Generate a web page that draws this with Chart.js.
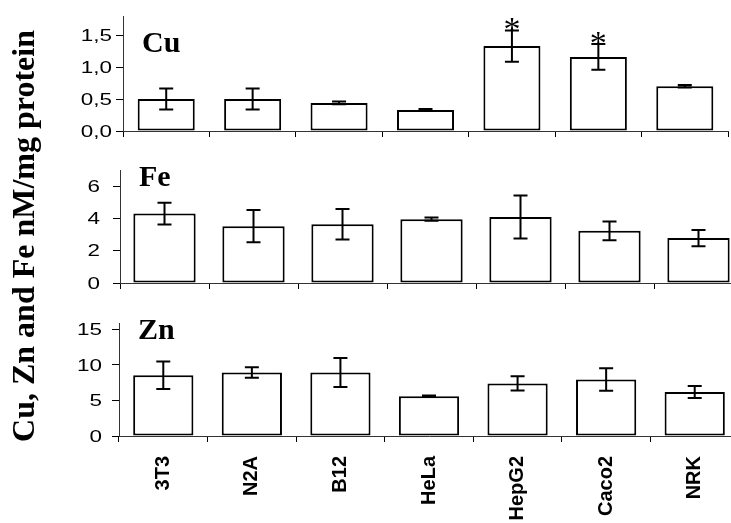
<!DOCTYPE html>
<html>
<head>
<meta charset="utf-8">
<script src="https://cdn.jsdelivr.net/npm/chart.js@4.4.0/dist/chart.umd.min.js"></script>
<style>
  html, body { margin: 0; padding: 0; background: #fff; overflow: hidden; }
  .panel { position: absolute; left: 0; top: 0; width: 750px; height: 523px; }
</style>
</head>
<body>
<div class="panel"><canvas id="cu-chart" width="750" height="523"></canvas></div>
<div class="panel"><canvas id="fe-chart" width="750" height="523"></canvas></div>
<div class="panel"><canvas id="zn-chart" width="750" height="523"></canvas></div>
<script>
const cellLines = ['3T3', 'N2A', 'B12', 'HeLa', 'HepG2', 'Caco2', 'NRK'];

// metal content, nM/mg protein (mean and error)
const cuMeans = [0.50, 0.50, 0.44, 0.33, 1.33, 1.16, 0.70];
const cuErrors = [0.165, 0.165, 0.02, 0.015, 0.245, 0.20, 0.02];
const cuSignificant = [false, false, false, false, true, true, false];

const feMeans = [4.30, 3.52, 3.64, 3.95, 4.09, 3.23, 2.78];
const feErrors = [0.67, 1.00, 0.95, 0.10, 1.33, 0.58, 0.50];

const znMeans = [8.56, 8.94, 8.94, 5.60, 7.39, 7.95, 6.20];
const znErrors = [1.93, 0.73, 2.05, 0.10, 1.00, 1.60, 0.85];

const cuTicks = [0, 0.5, 1.0, 1.5];
const feTicks = [0, 2, 4, 6];
const znTicks = [0, 5, 10, 15];

const CANVAS_W = 750;
const CANVAS_H = 523;
const sansFamily = '"Liberation Sans", Arial, sans-serif';
const serifFamily = '"Liberation Serif", "Times New Roman", serif';

// whiskers + significance stars, drawn on top of the bars
const errorBarPlugin = {
    id: 'errorBars',
    afterDatasetsDraw(chart, args, opts) {
        if (!opts.errors) return;
        const ctx = chart.ctx;
        const yScale = chart.scales.y;
        const values = chart.data.datasets[0].data;
        const bars = chart.getDatasetMeta(0).data;
        ctx.save();
        ctx.strokeStyle = '#000';
        ctx.lineWidth = 2;
        bars.forEach((bar, i) => {
            const hi = yScale.getPixelForValue(values[i] + opts.errors[i]);
            const lo = yScale.getPixelForValue(values[i] - opts.errors[i]);
            ctx.beginPath();
            ctx.moveTo(bar.x, hi); ctx.lineTo(bar.x, lo);
            ctx.moveTo(bar.x - opts.cap, hi); ctx.lineTo(bar.x + opts.cap, hi);
            ctx.moveTo(bar.x - opts.cap, lo); ctx.lineTo(bar.x + opts.cap, lo);
            ctx.stroke();

            if (opts.stars && opts.stars[i]) {
                ctx.font = '34px ' + serifFamily;
                ctx.fillStyle = '#000';
                ctx.textAlign = 'center';
                ctx.textBaseline = 'alphabetic';
                const m = ctx.measureText('*');
                const target = hi - 6;
                const base = target - (m.actualBoundingBoxDescent - m.actualBoundingBoxAscent) / 2;
                ctx.fillText('*', bar.x, base);
            }
        });
        ctx.restore();
    }
};

// y tick labels, drawn a bit wider than the plain font
const wideTicksPlugin = {
    id: 'wideTicks',
    afterDraw(chart, args, opts) {
        const ctx = chart.ctx;
        const yScale = chart.scales.y;
        const right = chart.chartArea.left - opts.gap;
        ctx.save();
        ctx.font = opts.size + 'px ' + sansFamily;
        ctx.fillStyle = '#000';
        ctx.textAlign = 'right';
        ctx.textBaseline = 'middle';
        yScale.ticks.forEach(t => {
            const y = yScale.getPixelForValue(t.value);
            ctx.save();
            ctx.translate(right, y);
            ctx.scale(opts.stretch, 1);
            ctx.fillText(t.value.toFixed(opts.digits).replace('.', ','), 0, 1);
            ctx.restore();
        });
        ctx.restore();
    }
};

// element name in the upper left of each panel
const panelLabelPlugin = {
    id: 'panelLabel',
    afterDraw(chart, args, opts) {
        if (!opts.text) return;
        const ctx = chart.ctx;
        ctx.save();
        ctx.font = 'bold 30px ' + serifFamily;
        ctx.fillStyle = '#000';
        ctx.textAlign = 'left';
        ctx.textBaseline = 'alphabetic';
        ctx.fillText(opts.text, chart.chartArea.left + opts.dx, opts.y);
        ctx.restore();
    }
};

// shared vertical title at the far left
const sideTitlePlugin = {
    id: 'sideTitle',
    afterDraw(chart, args, opts) {
        if (!opts.text) return;
        const ctx = chart.ctx;
        ctx.save();
        ctx.translate(opts.x, opts.y);
        ctx.rotate(-Math.PI / 2);
        ctx.font = 'bold 32px ' + serifFamily;
        ctx.fillStyle = '#000';
        ctx.textAlign = 'center';
        ctx.textBaseline = 'alphabetic';
        ctx.fillText(opts.text, 0, 0);
        ctx.restore();
    }
};

function makePanel(canvasId, means, errors, ticks, max, area, extra) {
    const ctx = document.getElementById(canvasId).getContext('2d');
    return new Chart(ctx, {
        type: 'bar',
        data: {
            labels: cellLines,
            datasets: [{
                data: means,
                backgroundColor: '#fff',
                borderColor: '#000',
                borderWidth: 2,
                borderSkipped: false,
                barPercentage: area.barPct,
                categoryPercentage: 1.0
            }]
        },
        options: {
            responsive: false,
            animation: false,
            layout: {
                padding: { top: area.top, right: CANVAS_W - area.right, bottom: 0, left: 0 }
            },
            scales: {
                x: {
                    offset: true,
                    afterFit: scale => { scale.height = CANVAS_H - area.bottom; },
                    grid: {
                        offset: true,
                        drawOnChartArea: false,
                        color: '#000',
                        tickLength: 6
                    },
                    border: { display: true, color: '#333', width: 1 },
                    ticks: {
                        autoSkip: false,
                        minRotation: extra.showLabels ? 90 : 0,
                        maxRotation: extra.showLabels ? 90 : 0,
                        padding: 14,
                        color: '#000',
                        font: { family: sansFamily, size: 20, weight: 'bold' },
                        callback: function (value) {
                            return extra.showLabels ? this.getLabelForValue(value) : '';
                        }
                    }
                },
                y: {
                    min: 0,
                    max: max,
                    afterFit: scale => { scale.width = area.left; },
                    afterBuildTicks: scale => {
                        scale.ticks = ticks.map(v => ({ value: v }));
                    },
                    grid: {
                        drawOnChartArea: false,
                        color: '#000',
                        tickLength: 7
                    },
                    border: { display: true, color: '#333', width: 1 },
                    ticks: { display: false }
                }
            },
            plugins: {
                legend: { display: false },
                tooltip: { enabled: false },
                errorBars: { errors: errors, cap: 7, stars: extra.stars },
                wideTicks: { size: 17, stretch: 1.32, gap: extra.tickGap, digits: extra.digits },
                panelLabel: { text: extra.label, dx: 19, y: extra.labelY },
                sideTitle: extra.sideTitle || {}
            }
        },
        plugins: [errorBarPlugin, wideTicksPlugin, panelLabelPlugin, sideTitlePlugin]
    });
}

makePanel('cu-chart', cuMeans, cuErrors, cuTicks, 1.8,
    { left: 123, right: 728, top: 16, bottom: 131, barPct: 0.66 },
    { label: 'Cu', labelY: 52, digits: 1, tickGap: 11, stars: cuSignificant, showLabels: false });

makePanel('fe-chart', feMeans, feErrors, feTicks, 7,
    { left: 120, right: 743, top: 170, bottom: 283, barPct: 0.70 },
    { label: 'Fe', labelY: 186, digits: 0, tickGap: 20, showLabels: false });

makePanel('zn-chart', znMeans, znErrors, znTicks, 15.9,
    { left: 119, right: 739, top: 323, bottom: 436, barPct: 0.68 },
    { label: 'Zn', labelY: 339, digits: 0, tickGap: 17, showLabels: true,
      sideTitle: { text: 'Cu, Zn and Fe nM/mg protein', x: 34, y: 236 } });
</script>
</body>
</html>
